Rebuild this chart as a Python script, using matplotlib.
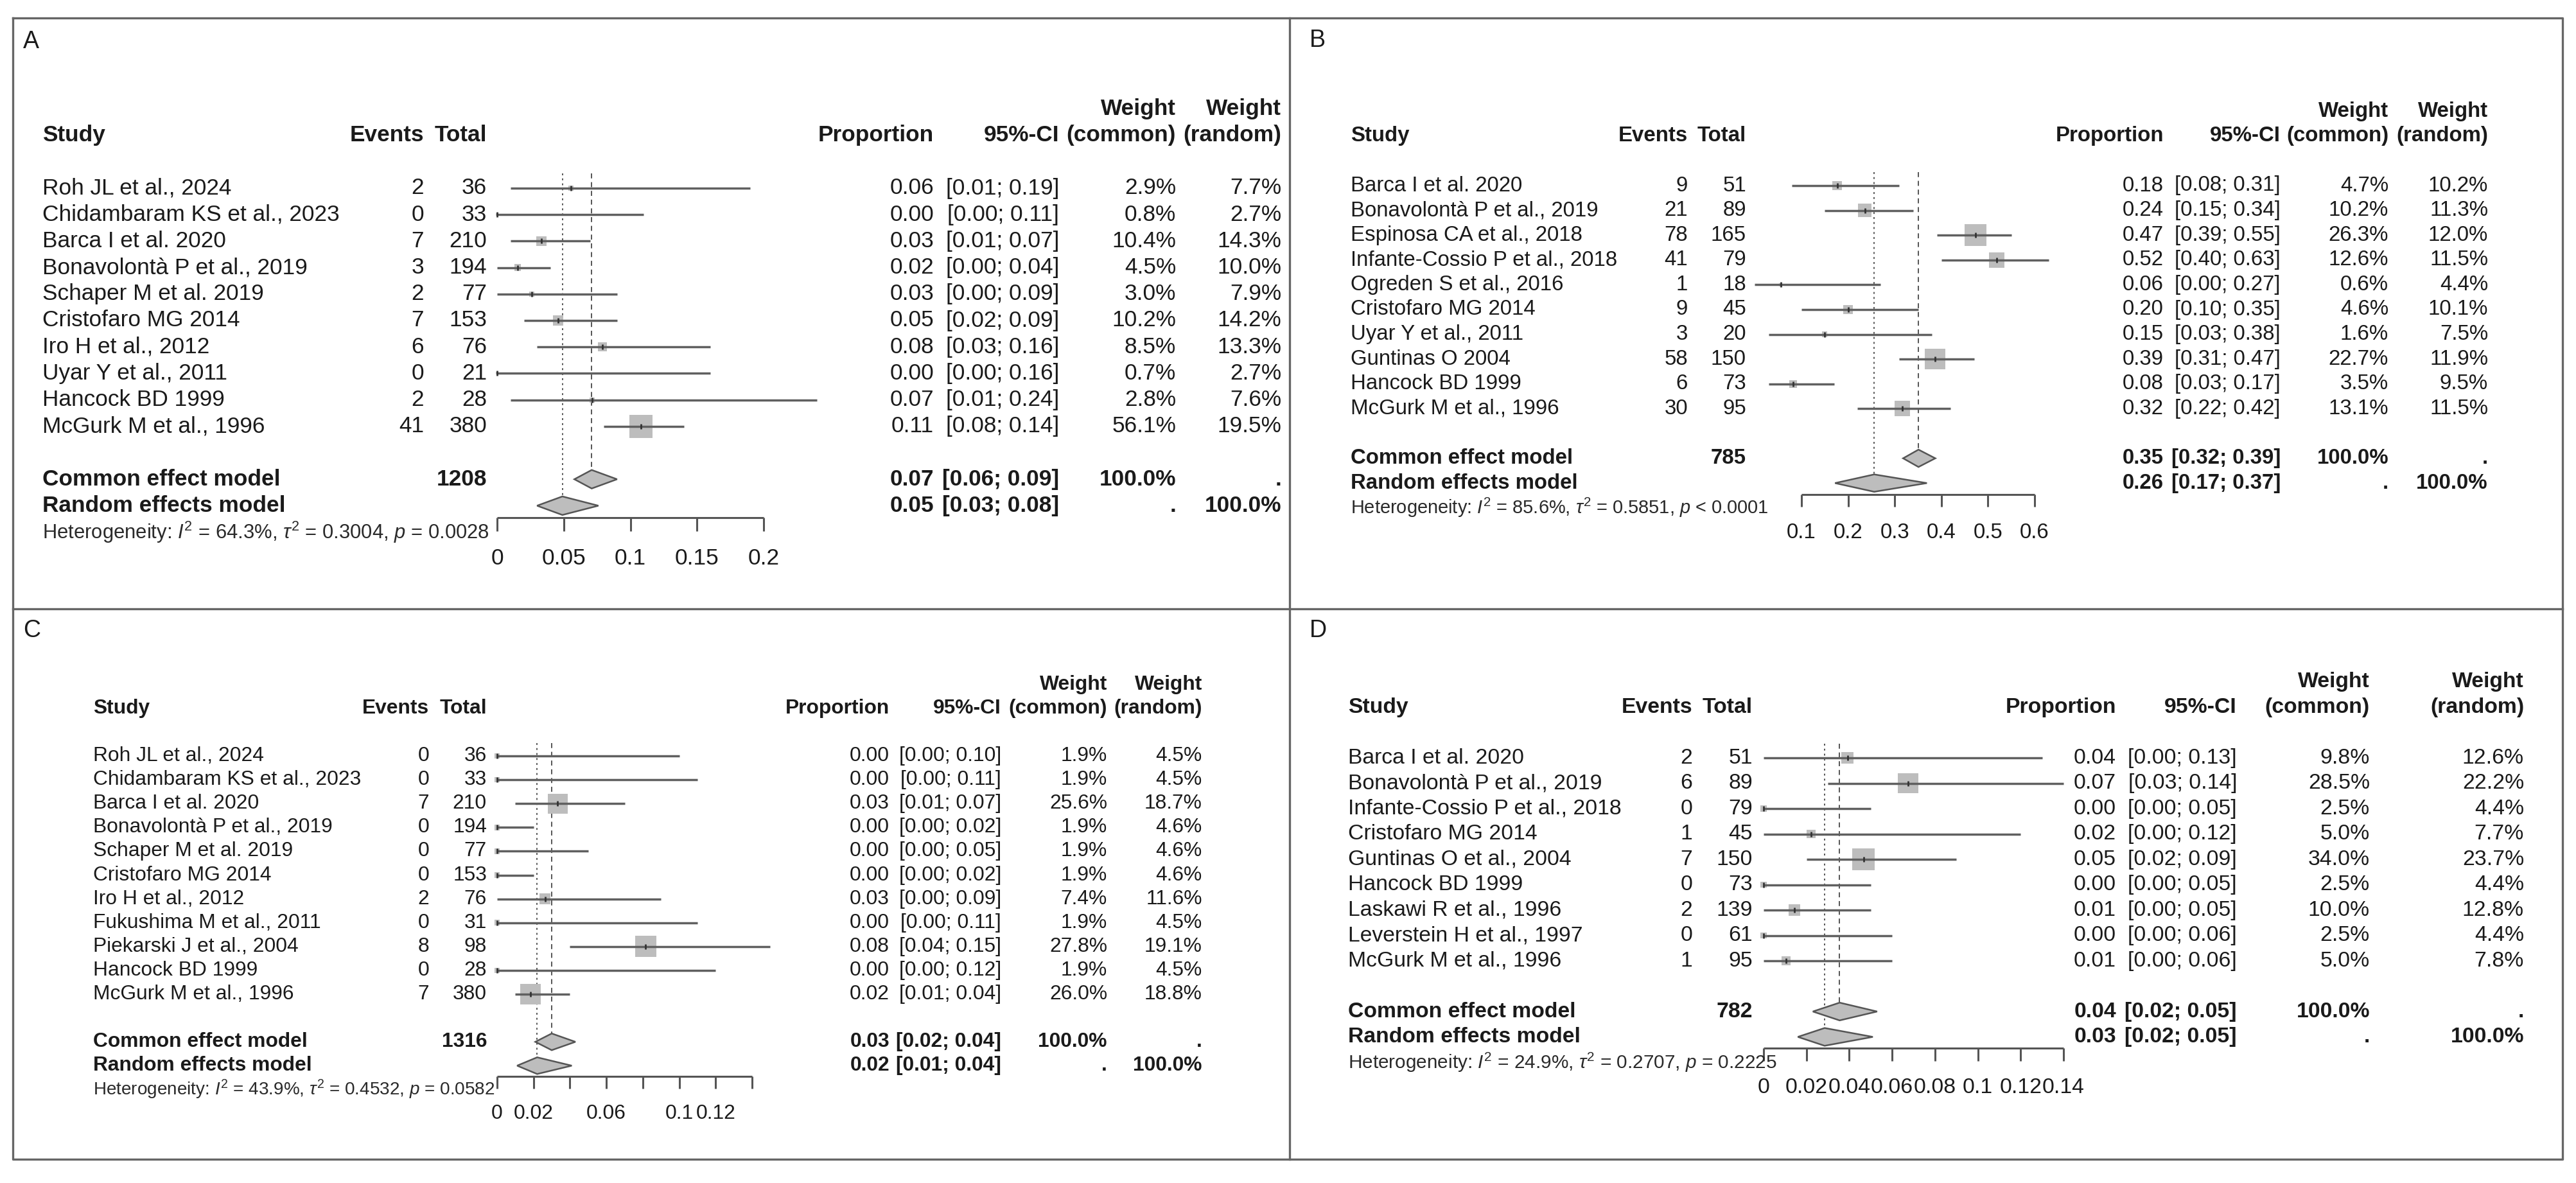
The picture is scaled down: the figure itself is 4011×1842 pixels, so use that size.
import numpy as np
import matplotlib
matplotlib.use("Agg")
import matplotlib.pyplot as plt
from matplotlib import transforms
from matplotlib.patches import Polygon

plt.rcParams['font.family'] = ['Liberation Sans', 'DejaVu Sans']
plt.rcParams['mathtext.fontset'] = 'custom'
plt.rcParams['mathtext.rm'] = 'Liberation Sans'
plt.rcParams['mathtext.it'] = 'Liberation Sans:italic'
plt.rcParams['mathtext.bf'] = 'Liberation Sans:bold'

W, H = 4011, 1842

# ---------------- panel A ----------------
a_study = ["Roh JL et al., 2024", "Chidambaram KS et al., 2023", "Barca I et al. 2020",
           "Bonavolontà P et al., 2019", "Schaper M et al. 2019", "Cristofaro MG 2014",
           "Iro H et al., 2012", "Uyar Y et al., 2011", "Hancock BD 1999", "McGurk M et al., 1996"]
a_events = [2, 0, 7, 3, 2, 7, 6, 0, 2, 41]
a_total = [36, 33, 210, 194, 77, 153, 76, 21, 28, 380]
a_prop = [0.0556, 0.0, 0.0333, 0.0155, 0.0260, 0.0458, 0.0789, 0.0, 0.0714, 0.1079]
a_lower = [0.01, 0.00, 0.01, 0.00, 0.00, 0.02, 0.03, 0.00, 0.01, 0.08]
a_upper = [0.19, 0.11, 0.07, 0.04, 0.09, 0.09, 0.16, 0.16, 0.24, 0.14]
a_w_common = [2.9, 0.8, 10.4, 4.5, 3.0, 10.2, 8.5, 0.7, 2.8, 56.1]
a_w_random = [7.7, 2.7, 14.3, 10.0, 7.9, 14.2, 13.3, 2.7, 7.6, 19.5]
a_common = (0.071, 0.058, 0.090)
a_random = (0.049, 0.030, 0.076)
a_n = 1208
a_het = ("64.3", "0.3004", "= 0.0028")
a_ticks = [0, 0.05, 0.1, 0.15, 0.2]
a_tick_labels = ["0", "0.05", "0.1", "0.15", "0.2"]

# ---------------- panel B ----------------
b_study = ["Barca I et al. 2020", "Bonavolontà P et al., 2019", "Espinosa CA et al., 2018",
           "Infante-Cossio P et al., 2018", "Ogreden S et al., 2016", "Cristofaro MG 2014",
           "Uyar Y et al., 2011", "Guntinas O 2004", "Hancock BD 1999", "McGurk M et al., 1996"]
b_events = [9, 21, 78, 41, 1, 9, 3, 58, 6, 30]
b_total = [51, 89, 165, 79, 18, 45, 20, 150, 73, 95]
b_prop = [0.1765, 0.2360, 0.4727, 0.5190, 0.0556, 0.2000, 0.1500, 0.3867, 0.0822, 0.3158]
b_lower = [0.08, 0.15, 0.39, 0.40, 0.00, 0.10, 0.03, 0.31, 0.03, 0.22]
b_upper = [0.31, 0.34, 0.55, 0.63, 0.27, 0.35, 0.38, 0.47, 0.17, 0.42]
b_w_common = [4.7, 10.2, 26.3, 12.6, 0.6, 4.6, 1.6, 22.7, 3.5, 13.1]
b_w_random = [10.2, 11.3, 12.0, 11.5, 4.4, 10.1, 7.5, 11.9, 9.5, 11.5]
b_common = (0.351, 0.318, 0.387)
b_random = (0.256, 0.172, 0.369)
b_n = 785
b_het = ("85.6", "0.5851", "< 0.0001")
b_ticks = [0.1, 0.2, 0.3, 0.4, 0.5, 0.6]
b_tick_labels = ["0.1", "0.2", "0.3", "0.4", "0.5", "0.6"]

# ---------------- panel C ----------------
c_study = ["Roh JL et al., 2024", "Chidambaram KS et al., 2023", "Barca I et al. 2020",
           "Bonavolontà P et al., 2019", "Schaper M et al. 2019", "Cristofaro MG 2014",
           "Iro H et al., 2012", "Fukushima M et al., 2011", "Piekarski J et al., 2004",
           "Hancock BD 1999", "McGurk M et al., 1996"]
c_events = [0, 0, 7, 0, 0, 0, 2, 0, 8, 0, 7]
c_total = [36, 33, 210, 194, 77, 153, 76, 31, 98, 28, 380]
c_prop = [0.0, 0.0, 0.0333, 0.0, 0.0, 0.0, 0.0263, 0.0, 0.0816, 0.0, 0.0184]
c_lower = [0.00, 0.00, 0.01, 0.00, 0.00, 0.00, 0.00, 0.00, 0.04, 0.00, 0.01]
c_upper = [0.10, 0.11, 0.07, 0.02, 0.05, 0.02, 0.09, 0.11, 0.15, 0.12, 0.04]
c_w_common = [1.9, 1.9, 25.6, 1.9, 1.9, 1.9, 7.4, 1.9, 27.8, 1.9, 26.0]
c_w_random = [4.5, 4.5, 18.7, 4.6, 4.6, 4.6, 11.6, 4.5, 19.1, 4.5, 18.8]
c_common = (0.030, 0.021, 0.043)
c_random = (0.022, 0.011, 0.041)
c_n = 1316
c_het = ("43.9", "0.4532", "= 0.0582")
c_ticks = [0, 0.02, 0.04, 0.06, 0.08, 0.1, 0.12, 0.14]
c_tick_labels = ["0", "0.02", "", "0.06", "", "0.1", "0.12", ""]

# ---------------- panel D ----------------
d_study = ["Barca I et al. 2020", "Bonavolontà P et al., 2019", "Infante-Cossio P et al., 2018",
           "Cristofaro MG 2014", "Guntinas O et al., 2004", "Hancock BD 1999",
           "Laskawi R et al., 1996", "Leverstein H et al., 1997", "McGurk M et al., 1996"]
d_events = [2, 6, 0, 1, 7, 0, 2, 0, 1]
d_total = [51, 89, 79, 45, 150, 73, 139, 61, 95]
d_prop = [0.0392, 0.0674, 0.0, 0.0222, 0.0467, 0.0, 0.0144, 0.0, 0.0105]
d_lower = [0.00, 0.03, 0.00, 0.00, 0.02, 0.00, 0.00, 0.00, 0.00]
d_upper = [0.13, 0.14, 0.05, 0.12, 0.09, 0.05, 0.05, 0.06, 0.06]
d_w_common = [9.8, 28.5, 2.5, 5.0, 34.0, 2.5, 10.0, 2.5, 5.0]
d_w_random = [12.6, 22.2, 4.4, 7.7, 23.7, 4.4, 12.8, 4.4, 7.8]
d_common = (0.0355, 0.023, 0.053)
d_random = (0.0285, 0.016, 0.051)
d_n = 782
d_het = ("24.9", "0.2707", "= 0.2225")
d_ticks = [0, 0.02, 0.04, 0.06, 0.08, 0.1, 0.12, 0.14]
d_tick_labels = ["0", "0.02", "0.04", "0.06", "0.08", "0.1", "0.12", "0.14"]

# layout of each panel, in pixels of the final image
lay_a = dict(letter=(36, 65), study=66, events=660, total=758, prop=1454, ci=1649,
             wc=1831, wr=1995, x_px=(774, 1189), row0=293, row_h=41.2)
lay_b = dict(letter=(2039, 63), study=2103, events=2628, total=2719, prop=3369, ci=3551,
             wc=3719, wr=3874, x_px=(2805, 3168), row0=289, row_h=38.6)
lay_c = dict(letter=(36, 982), study=145, events=668, total=758, prop=1385, ci=1559,
             wc=1724, wr=1872, x_px=(774, 1171), row0=1177, row_h=37.1)
lay_d = dict(letter=(2039, 982), study=2099, events=2635, total=2729, prop=3295, ci=3483,
             wc=3690, wr=3930, x_px=(2746, 3213), row0=1180, row_h=39.5)

TXT = '#1a1a1a'
LINE = '#555555'
FILL = '#bdbdbd'

fig = plt.figure(figsize=(W / 100, H / 100), dpi=100)
bg = fig.add_axes([0, 0, 1, 1])
bg.set_xlim(0, W)
bg.set_ylim(H, 0)
bg.axis('off')

# panel frames
fc = '#666666'
bg.plot([20, 3990, 3990, 20, 20], [28, 28, 1805, 1805, 28], color=fc, lw=2.4)
bg.plot([2008, 2008], [28, 1805], color=fc, lw=2.4)
bg.plot([20, 3990], [948, 948], color=fc, lw=2.4)


def forest(letter, study, events, total, prop, lower, upper, w_common, w_random,
           common, random, n_all, het, ticks, tick_labels, lay):
    n = len(study)
    rh = lay['row_h']
    fs = rh * 0.855 * 0.72
    y_top, y_bot = -4, n + 5
    x0, x1 = lay['x_px']
    ax = fig.add_axes([x0 / W, 1 - (lay['row0'] + y_bot * rh) / H,
                       (x1 - x0) / W, (y_bot - y_top) * rh / H])
    ax.set_xlim(ticks[0], ticks[-1])
    ax.set_ylim(y_bot, y_top)
    ax.axis('off')
    tr = transforms.blended_transform_factory(bg.transData, ax.transData)

    bg.text(lay['letter'][0], lay['letter'][1], letter, fontsize=27, ha='left',
            va='center', color=TXT)

    rows = np.arange(n)
    c_row, r_row = n + 1, n + 2

    def put(x, y, s, ha='right', bold=False, size=fs, color=TXT):
        ax.text(x, y, s, transform=tr, ha=ha, va='center', fontsize=size,
                fontweight='bold' if bold else 'normal', color=color)

    # header
    put(lay['study'], -2, 'Study', ha='left', bold=True)
    put(lay['events'], -2, 'Events', bold=True)
    put(lay['total'], -2, 'Total', bold=True)
    put(lay['prop'], -2, 'Proportion', bold=True)
    put(lay['ci'], -2, '95%-CI', bold=True)
    put(lay['wc'], -3, 'Weight', bold=True)
    put(lay['wc'], -2, '(common)', bold=True)
    put(lay['wr'], -3, 'Weight', bold=True)
    put(lay['wr'], -2, '(random)', bold=True)

    # study rows
    for i in range(n):
        put(lay['study'], i, study[i], ha='left')
        put(lay['events'], i, str(events[i]))
        put(lay['total'], i, str(total[i]))
        put(lay['prop'], i, f"{prop[i]:.2f}")
        put(lay['ci'], i, f"[{lower[i]:.2f}; {upper[i]:.2f}]")
        put(lay['wc'], i, f"{w_common[i]:.1f}%")
        put(lay['wr'], i, f"{w_random[i]:.1f}%")

    # pooled rows
    put(lay['study'], c_row, 'Common effect model', ha='left', bold=True)
    put(lay['total'], c_row, str(n_all), bold=True)
    put(lay['prop'], c_row, f"{common[0]:.2f}", bold=True)
    put(lay['ci'], c_row, f"[{common[1]:.2f}; {common[2]:.2f}]", bold=True)
    put(lay['wc'], c_row, '100.0%', bold=True)
    put(lay['wr'], c_row, '.', bold=True)
    put(lay['study'], r_row, 'Random effects model', ha='left', bold=True)
    put(lay['prop'], r_row, f"{random[0]:.2f}", bold=True)
    put(lay['ci'], r_row, f"[{random[1]:.2f}; {random[2]:.2f}]", bold=True)
    put(lay['wc'], r_row, '.', bold=True)
    put(lay['wr'], r_row, '100.0%', bold=True)

    het_txt = (r"Heterogeneity: $\mathit{I}^{2}$ = " + het[0] + r"%, $\tau^{2}$ = " + het[1]
               + r", $\mathit{p}$ " + het[2])
    put(lay['study'], r_row + 1, het_txt, ha='left', size=fs * 0.88, color='#2a2a2a')

    # reference lines
    ax.vlines(common[0], -0.55, c_row - 0.35, colors=LINE, lw=1.4,
              linestyles=(0, (4, 3)), zorder=1)
    ax.vlines(random[0], -0.55, r_row - 0.35, colors=LINE, lw=1.4,
              linestyles=(0, (1.5, 2.5)), zorder=1)

    # squares, CI lines, point estimates
    side = 0.88 * rh * np.sqrt(np.array(w_common) / max(w_common)) * 0.72
    ax.scatter(prop, rows, s=side ** 2, marker='s', color=FILL, linewidths=0,
               zorder=2, clip_on=False)
    ax.hlines(rows, lower, upper, colors='#606060', lw=2.5, zorder=3, clip_on=False)
    ax.plot(prop, rows, ls='none', marker='|', ms=6, mew=2, color='#333333',
            zorder=4, clip_on=False)

    # diamonds
    for (est, lo, hi), r in ((common, c_row), (random, r_row)):
        ax.add_patch(Polygon([(lo, r), (est, r - 0.35), (hi, r), (est, r + 0.35)],
                             closed=True, fc=FILL, ec=LINE, lw=1.8, zorder=3,
                             clip_on=False))

    # x axis
    ay = r_row + 0.45
    ax.plot([ticks[0], ticks[-1]], [ay, ay], color=LINE, lw=2.2, clip_on=False,
            solid_capstyle='butt')
    ax.vlines(ticks, ay, ay + 0.5, colors=LINE, lw=2.2, clip_on=False)
    for t, lab in zip(ticks, tick_labels):
        ax.text(t, r_row + 2, lab, ha='center', va='center', fontsize=fs, color=TXT)


forest('A', a_study, a_events, a_total, a_prop, a_lower, a_upper, a_w_common, a_w_random,
       a_common, a_random, a_n, a_het, a_ticks, a_tick_labels, lay_a)
forest('B', b_study, b_events, b_total, b_prop, b_lower, b_upper, b_w_common, b_w_random,
       b_common, b_random, b_n, b_het, b_ticks, b_tick_labels, lay_b)
forest('C', c_study, c_events, c_total, c_prop, c_lower, c_upper, c_w_common, c_w_random,
       c_common, c_random, c_n, c_het, c_ticks, c_tick_labels, lay_c)
forest('D', d_study, d_events, d_total, d_prop, d_lower, d_upper, d_w_common, d_w_random,
       d_common, d_random, d_n, d_het, d_ticks, d_tick_labels, lay_d)

fig.savefig('out.png', dpi=100, facecolor='white')
